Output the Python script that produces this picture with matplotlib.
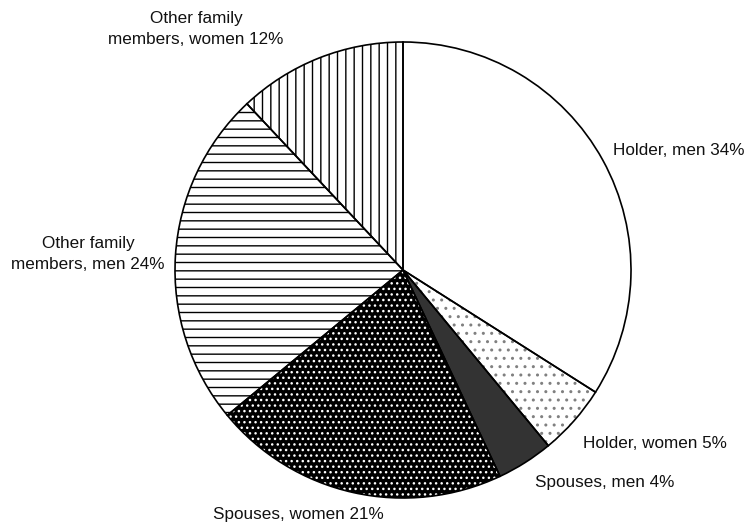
import matplotlib
matplotlib.use("Agg")
import matplotlib.pyplot as plt

# slice data (clockwise from 12 o'clock)
labels = ['Holder, men 34%', 'Holder, women 5%', 'Spouses, men 4%',
          'Spouses, women 21%', 'Other family\nmembers, men 24%',
          'Other family\nmembers, women 12%']
shares = [34, 5, 4, 21, 24, 12]

faces = ['white', 'white', '#333333', 'black', 'white', 'white']
hatches = ['', '..', '', '...', '--', '||']
hatch_cols = ['black', '#808080', '#333333', 'white', 'black', 'black']

plt.rcParams['font.family'] = ['Liberation Sans', 'DejaVu Sans']
plt.rcParams['hatch.linewidth'] = 1.0

W, H = 750, 526
cx, cy, R = 403, 270, 228   # pixel centre / radius of the pie

fig = plt.figure(figsize=(W / 100, H / 100), dpi=100)
ax = fig.add_axes([0, 0, 1, 1])
ax.axis('off')

# filled + hatched layer
wedges, _ = ax.pie(shares, startangle=90, counterclock=False, radius=1,
                   wedgeprops=dict(linewidth=0))
for w, fc, h, hc in zip(wedges, faces, hatches, hatch_cols):
    w.set_facecolor(fc)
    w.set_edgecolor(hc)
    w.set_hatch(h)
    w.set_linewidth(0)

# outline layer
ax.pie(shares, startangle=90, counterclock=False, radius=1,
       wedgeprops=dict(fill=False, edgecolor='black', linewidth=1.2))
ax.set_xlim(-cx / R, (W - cx) / R)
ax.set_ylim(-(H - cy) / R, cy / R)

def px(x, y):
    return (x - cx) / R, (cy - y) / R

# label anchors in pixel space
pos = [(613, 151, 'left'), (583, 443, 'left'), (535, 482, 'left'),
       (213, 515, 'left'), (88, 254, 'center'), (196, 29, 'center')]
for lab, (x, y, ha) in zip(labels, pos):
    tx, ty = px(x, y)
    ax.text(tx, ty, lab, ha=ha, va='center', fontsize=12.3, color='#111111',
            multialignment='center', linespacing=1.55)

fig.savefig('out.png', dpi=100)
